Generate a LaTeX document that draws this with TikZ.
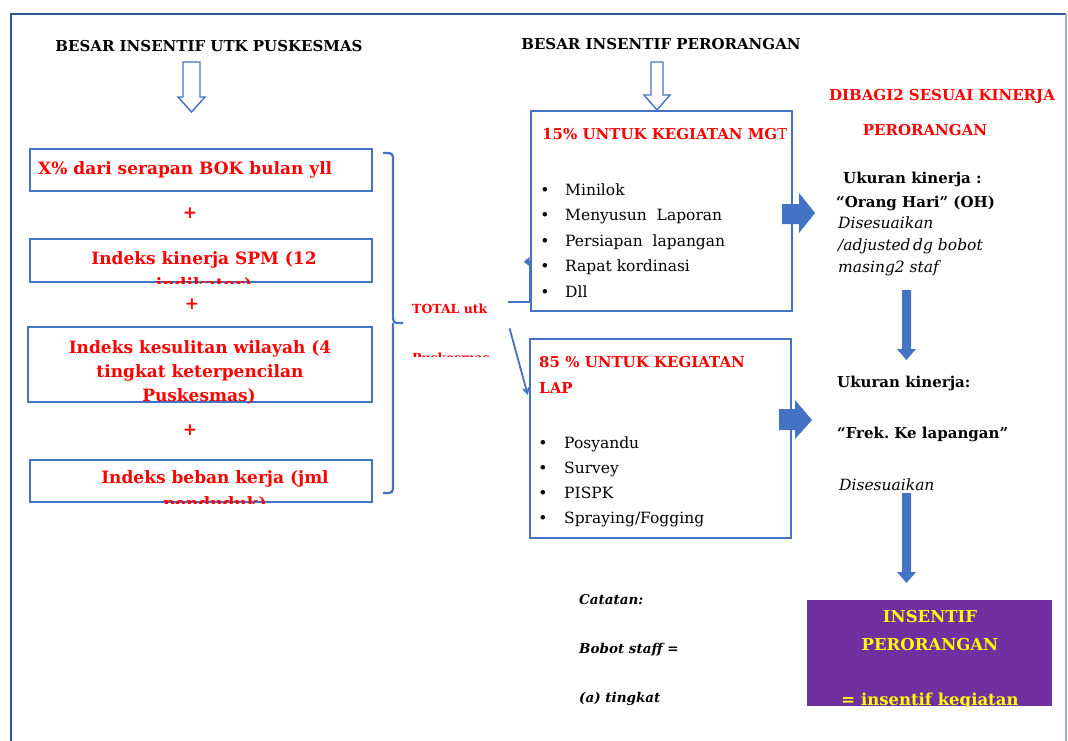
\documentclass[tikz,border=0pt]{standalone}
\usepackage{fontspec}
\setmainfont{DejaVu Serif}
\usetikzlibrary{arrows.meta, positioning, calc}

\definecolor{boxblue}{HTML}{4472C4}
\definecolor{frameblue}{HTML}{2F5597}
\definecolor{greyline}{HTML}{A6AFC6}
\definecolor{ungu}{HTML}{7030A0}
\definecolor{kuning}{HTML}{FFFF00}

\tikzset{
  pageline/.style={draw=frameblue, line width=2.6pt},
  kotak/.style={draw=boxblue, line width=2.6pt, inner sep=0pt},
  judul/.style={font=\fontsize{15}{18}\selectfont\bfseries},
  merah/.style={text=red, font=\fontsize{17}{20}\selectfont\bfseries, inner sep=0pt},
  tambah/.style={text=red, font=\fontsize{17}{20}\selectfont\bfseries},
  subjudul/.style={text=red, font=\fontsize{15}{18}\selectfont\bfseries, inner sep=0pt},
  butir/.style={font=\fontsize{15.5}{18}\selectfont, inner sep=0pt},
  tebal/.style={font=\fontsize{15}{18}\selectfont\bfseries, inner sep=0pt},
  miring/.style={font=\fontsize{15.5}{18}\selectfont\itshape, inner sep=0pt},
  catat/.style={font=\fontsize{13.5}{16}\selectfont\bfseries\itshape, inner sep=0pt},
  hasil/.style={text=kuning, font=\fontsize{16.5}{20}\selectfont\bfseries, inner sep=0pt},
  hollow/.style={draw=boxblue, line width=1.4pt, fill=white, line join=miter},
  conn/.style={draw=boxblue, line width=2.2pt}
}

\begin{document}
\begin{tikzpicture}[x=1pt, y=-1pt]
  \useasboundingbox (0,0) rectangle (1068,740);
  % page border
  \draw[pageline] (11,742) -- (11,14) -- (1066,14);
  \draw[greyline, line width=1.2pt] (1066,14) -- (1066,742);

  % headings
  \node[judul, anchor=base] (hpusk) at (209,51) {BESAR INSENTIF UTK PUSKESMAS};
  \node[judul, anchor=base] (hperor) at (661,49) {BESAR INSENTIF PERORANGAN};
  \draw[hollow] (183,62) -- (200,62) -- (200,97) -- (205,97) -- (191.5,112) -- (178,97) -- (183,97) -- cycle;
  \draw[hollow] (651,62) -- (663,62) -- (663,95) -- (670,95) -- (657,110) -- (644,95) -- (651,95) -- cycle;

  % left column
  \node[kotak, minimum width=342pt, minimum height=42pt] (bok) at (201,170) {};
  \node[merah, anchor=base west] (boktxt) at (38,174) {X\% dari serapan BOK bulan yll};
  \node[tambah] (plus1) at (190,213) {+};
  \node[kotak, minimum width=342pt, minimum height=43pt] (spm) at (201,260.5) {};
  \begin{scope}
    \clip (spm.south west) rectangle (spm.north east);
    \node[merah, anchor=base] (spma) at (204,264) {Indeks kinerja SPM (12};
    \node[merah, anchor=base] (spmb) at (204,290) {indikator)};
  \end{scope}
  \node[tambah] (plus2) at (192,304) {+};
  \node[kotak, minimum width=344pt, minimum height=75pt] (wil) at (200,364.5) {};
  \begin{scope}
    \clip (wil.south west) rectangle (wil.north east);
    \node[merah, anchor=base] (wila) at (200,353) {Indeks kesulitan wilayah (4};
    \node[merah, anchor=base] (wilb) at (200,377) {tingkat keterpencilan};
    \node[merah, anchor=base] (wilc) at (199,401) {Puskesmas)};
  \end{scope}
  \node[tambah] (plus3) at (190,430) {+};
  \node[kotak, minimum width=342pt, minimum height=42pt] (beban) at (201,481) {};
  \begin{scope}
    \clip (beban.south west) rectangle (beban.north east);
    \node[merah, anchor=base] (bebana) at (215,483) {Indeks beban kerja (jml};
    \node[merah, anchor=base] (bebanb) at (215,509) {penduduk)};
  \end{scope}

  % brace and total
  \draw[conn, rounded corners=4pt] (383,153) -| (393,323) -- (403,323);
  \draw[conn, rounded corners=4pt] (383,493) -| (393,323);
  \node[subjudul, font=\fontsize{12.5}{15}\selectfont\bfseries, anchor=base west] (total) at (412,313) {TOTAL utk};
  \begin{scope}
    \clip (400,340) rectangle (500,356);
    \node[subjudul, font=\fontsize{12.5}{15}\selectfont\bfseries, anchor=base west] (totalb) at (412,362) {Puskesmas};
  \end{scope}

  % activity boxes
  \node[kotak, minimum width=261pt, minimum height=200pt] (mgt) at (661.5,211) {};
  \node[subjudul, anchor=base west] (mgtjudul) at (542,139) {15\% UNTUK KEGIATAN MG{\mdseries T}};
  \foreach \txt [count=\i] in {Minilok, Menyusun\ \ Laporan, Persiapan\ \ lapangan, Rapat kordinasi, Dll} {
    \node[butir, anchor=base] (mgtb\i) at (545,169.5+25.5*\i) {•};
    \node[butir, anchor=base west] (mgt\i) at (565,169.5+25.5*\i) {\txt};
  }
  \node[kotak, minimum width=261pt, minimum height=199pt] (lap) at (660.5,438.5) {};
  \node[subjudul, anchor=base west] (lapjudul) at (539,367) {85 \% UNTUK KEGIATAN};
  \node[subjudul, anchor=base west] (lapjudulb) at (539,393) {LAP};
  \foreach \txt [count=\i] in {Posyandu, Survey, PISPK, Spraying/Fogging} {
    \node[butir, anchor=base] (lapb\i) at (543,422.7+25.3*\i) {•};
    \node[butir, anchor=base west] (lap\i) at (564,422.7+25.3*\i) {\txt};
  }

  % connectors from total
  \draw[conn, line width=1.8pt, -{Triangle[length=6pt, width=9pt]}]
    ($(total.east)+(20,-6)$) -| ($(mgt.north west)+(0,152)$) -- ($(mgt.north west)+(-6,152)$);
  \draw[conn, line width=1.8pt, -{Straight Barb[length=5pt, width=6pt]}]
    ($(total.east)+(22,20)$) -- ($(lap.north west)+(-1,57)$);

  % block arrows
  \fill[boxblue] (782,204) -- (799,204) -- (799,193) -- (815,213) -- (799,233) -- (799,224) -- (782,224) -- cycle;
  \fill[boxblue] (779,409) -- (795,409) -- (795,400) -- (812,420) -- (795,439) -- (795,430) -- (779,430) -- cycle;

  % right column
  \node[subjudul, anchor=base] (dibagi) at (942,100) {DIBAGI2 SESUAI KINERJA};
  \node[subjudul, anchor=base] (dibagib) at (925,135) {PERORANGAN};
  \node[tebal, anchor=base west] (ukur1) at (843,183) {Ukuran kinerja :};
  \node[tebal, anchor=base west] (oh) at (836,207) {“Orang Hari” (OH)};
  \node[miring, anchor=base west] (sesuai1) at (838,228) {Disesuaikan};
  \node[miring, anchor=base west] (sesuai1b) at (838,250) {/adjusted\,dg bobot};
  \node[miring, anchor=base west] (sesuai1c) at (838,272) {masing2 staf};
  \fill[boxblue] (902,290) -- (911,290) -- (911,349) -- (916,349) -- (906.5,360) -- (897,349) -- (902,349) -- cycle;
  \node[tebal, anchor=base west] (ukur2) at (837,387) {Ukuran kinerja:};
  \node[tebal, anchor=base west] (frek) at (837,438) {“Frek.\ Ke lapangan”};
  \node[miring, anchor=base west] (sesuai2) at (839,490) {Disesuaikan};
  \fill[boxblue] (902,493) -- (911,493) -- (911,572) -- (916,572) -- (906.5,583) -- (897,572) -- (902,572) -- cycle;

  % result box
  \node[fill=ungu, minimum width=245pt, minimum height=106pt, inner sep=0pt] (insentif) at (929.5,653) {};
  \begin{scope}
    \clip (insentif.south west) rectangle (insentif.north east);
    \node[hasil, anchor=base] (insa) at (930,622) {INSENTIF};
    \node[hasil, anchor=base] (insb) at (930,650) {PERORANGAN};
    \node[hasil, anchor=base] (insc) at (930,705) {= insentif kegiatan};
  \end{scope}

  % notes
  \node[catat, anchor=base west] (catatan) at (579,604) {Catatan:};
  \node[catat, anchor=base west] (bobot) at (579,653) {Bobot staff =};
  \node[catat, anchor=base west] (tingkat) at (579,702) {(a) tingkat};
\end{tikzpicture}
\end{document}
